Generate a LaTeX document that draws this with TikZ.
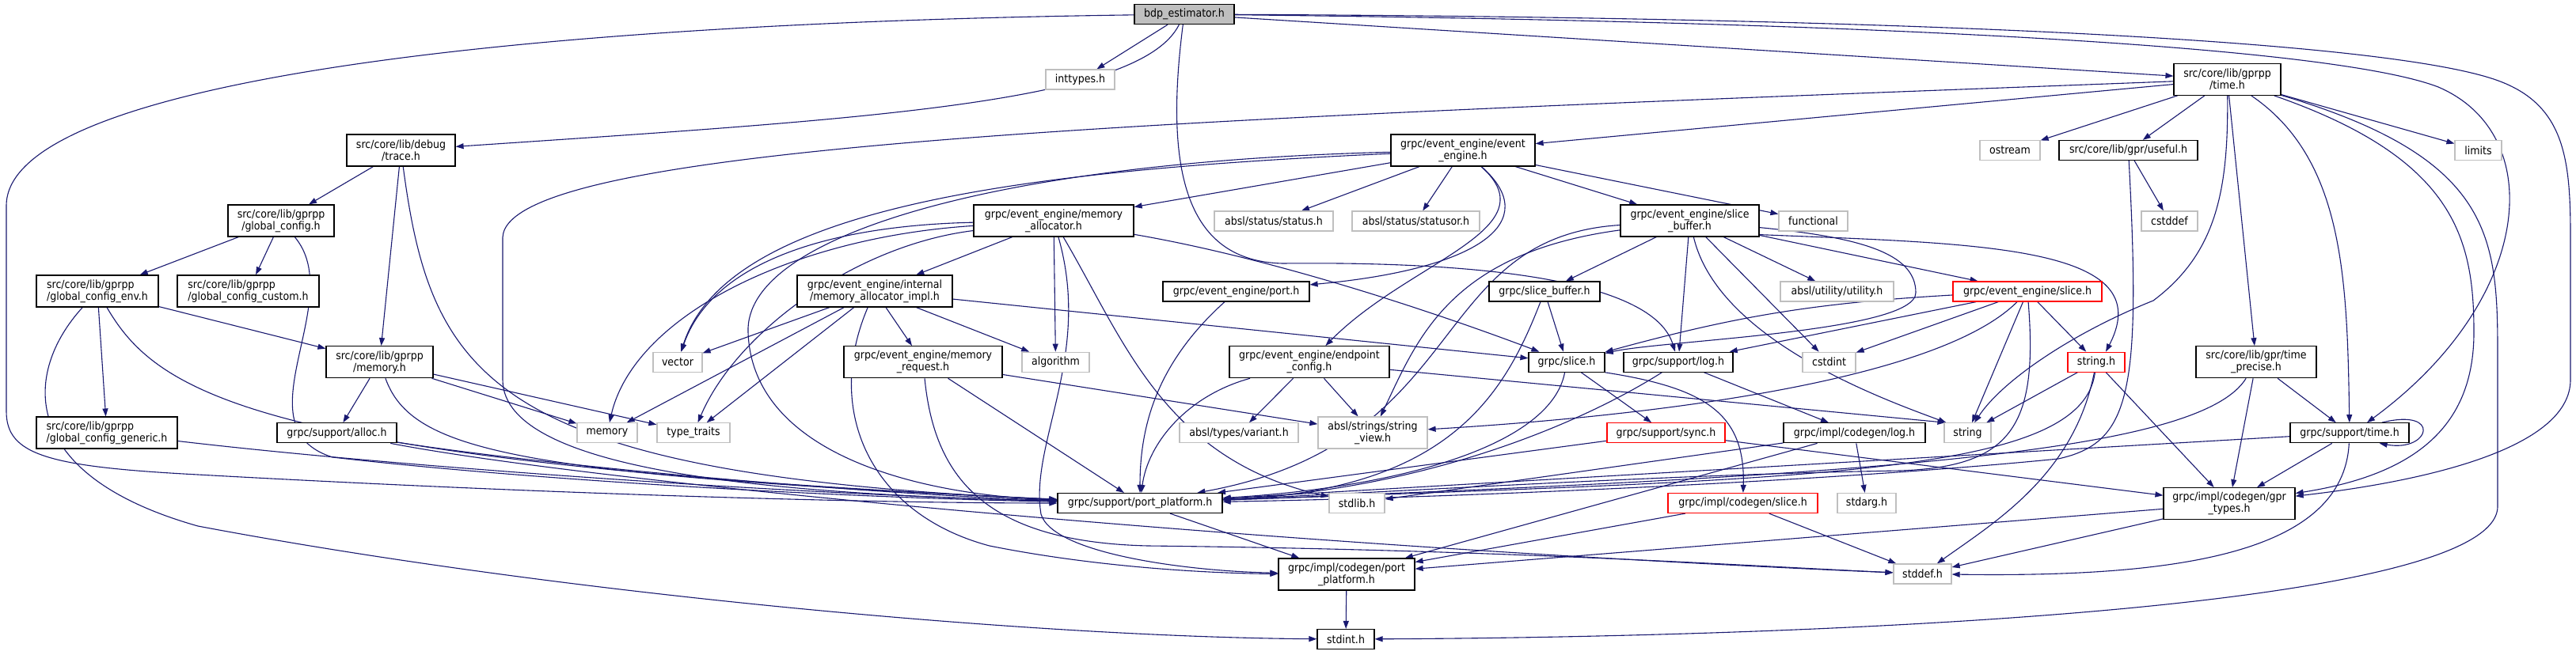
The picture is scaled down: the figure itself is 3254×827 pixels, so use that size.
\documentclass[tikz,border=0pt]{standalone}
\usepackage{fontspec}
\setmainfont{DejaVu Sans Condensed}
\usetikzlibrary{arrows.meta, backgrounds}
\definecolor{dxblue}{RGB}{25,25,112}
\definecolor{dxgray}{RGB}{191,191,191}
\definecolor{dxred}{RGB}{255,0,0}
\newcommand{\dxfont}{\fontsize{14}{15}\selectfont}

\begin{document}
\begin{tikzpicture}[x=1pt, y=1pt,
  dxbox/.style={draw, line width=1.2pt, minimum height=25, inner xsep=2pt, inner ysep=1pt, font=\dxfont, align=center, fill=white},
  tworow/.style={minimum height=40},
  lft/.style={align=left},
  doc/.style={dxbox, draw=black},
  ext/.style={dxbox, draw=dxgray},
  trunc/.style={dxbox, draw=dxred},
  incl/.style={draw=dxblue, line width=1.1pt, -{Triangle[length=10pt,width=7pt]}}]
\useasboundingbox (0,0) rectangle (3254,-827);

% Headers, top rank first
\node[doc, fill=dxgray, minimum width=126] (bdp) at (1496,-18) {bdp\_estimator.h};
\node[ext, minimum width=87] (inttypes) at (1364.5,-100.5) {inttypes.h};
\node[doc, tworow, minimum width=135] (gtime) at (2813.5,-100.3) {src/core/lib/gprpp\\/time.h};

\node[doc, tworow, minimum width=137] (trace) at (506.5,-190) {src/core/lib/debug\\/trace.h};
\node[doc, tworow, minimum width=182] (eeengine) at (1848,-190) {grpc/event\_engine/event\\\_engine.h};
\node[ext, minimum width=76] (ostream) at (2539,-190) {ostream};
\node[doc, minimum width=175] (useful) at (2688.5,-190) {src/core/lib/gpr/useful.h};
\node[ext, minimum width=59] (limits) at (3130.5,-190) {limits};

\node[doc, tworow, minimum width=134] (gcfg) at (355,-279) {src/core/lib/gprpp\\/global\_config.h};
\node[doc, tworow, minimum width=202] (memalloc) at (1331,-279) {grpc/event\_engine/memory\\\_allocator.h};
\node[ext, minimum width=150] (status) at (1609,-279.5) {absl/status/status.h};
\node[ext, minimum width=161] (statusor) at (1788.5,-279.5) {absl/status/statusor.h};
\node[doc, tworow, minimum width=175] (eeslicebuf) at (2134.5,-279) {grpc/event\_engine/slice\\\_buffer.h};
\node[ext, minimum width=87] (functional) at (2290.5,-279.5) {functional};
\node[ext, minimum width=71] (cstddef) at (2740.5,-279.5) {cstddef};

\node[doc, tworow, lft, minimum width=154] (gcenv) at (123,-368) {src/core/lib/gprpp\\/global\_config\_env.h};
\node[doc, tworow, lft, minimum width=179] (gccustom) at (313.5,-368) {src/core/lib/gprpp\\/global\_config\_custom.h};
\node[doc, tworow, minimum width=196] (memimpl) at (1105,-368) {grpc/event\_engine/internal\\/memory\_allocator\_impl.h};
\node[doc, minimum width=185] (port) at (1561.5,-368.5) {grpc/event\_engine/port.h};
\node[doc, minimum width=140] (slicebuf) at (1951,-368.5) {grpc/slice\_buffer.h};
\node[ext, minimum width=143] (utility) at (2320.5,-368.5) {absl/utility/utility.h};
\node[trunc, minimum width=188] (eeslice) at (2561,-368.5) {grpc/event\_engine/slice.h};

\node[doc, tworow, minimum width=135] (gmemory) at (479.5,-457.7) {src/core/lib/gprpp\\/memory.h};
\node[ext, minimum width=62] (vector) at (856,-457.7) {vector};
\node[doc, tworow, minimum width=200] (memreq) at (1166,-457.7) {grpc/event\_engine/memory\\\_request.h};
\node[ext, minimum width=85] (algorithm) at (1333.5,-457.7) {algorithm};
\node[doc, tworow, minimum width=202] (endpoint) at (1654,-457.7) {grpc/event\_engine/endpoint\\\_config.h};
\node[doc, minimum width=96] (slice) at (1979,-457.7) {grpc/slice.h};
\node[doc, minimum width=138] (log) at (2120,-457.7) {grpc/support/log.h};
\node[ext, minimum width=67] (cstdint) at (2310.5,-457.7) {cstdint};
\node[trunc, minimum width=72] (stringh) at (2648,-457.7) {string.h};
\node[doc, tworow, minimum width=152] (timeprecise) at (2850,-457.7) {src/core/lib/gpr/time\\\_precise.h};

\node[doc, tworow, lft, minimum width=178] (gcgeneric) at (135,-547) {src/core/lib/gprpp\\/global\_config\_generic.h};
\node[doc, minimum width=151] (alloc) at (425.5,-547.3) {grpc/support/alloc.h};
\node[ext, minimum width=76] (memory) at (767,-547.3) {memory};
\node[ext, minimum width=92] (typetraits) at (876,-547.3) {type\_traits};
\node[ext, minimum width=150] (variant) at (1565,-547.3) {absl/types/variant.h};
\node[ext, tworow, minimum width=138] (stringview) at (1734,-547) {absl/strings/string\\\_view.h};
\node[trunc, minimum width=149] (sync) at (2104.5,-547.3) {grpc/support/sync.h};
\node[doc, minimum width=179] (cglog) at (2342.5,-547.3) {grpc/impl/codegen/log.h};
\node[ext, minimum width=59] (string) at (2485.5,-547.3) {string};
\node[doc, minimum width=150] (suptime) at (2968,-547.3) {grpc/support/time.h};

\node[doc, minimum width=208] (ppsupport) at (1440,-636) {grpc/support/port\_platform.h};
\node[ext, minimum width=70] (stdlib) at (1714,-636) {stdlib.h};
\node[trunc, minimum width=189] (cgslice) at (2201.5,-636) {grpc/impl/codegen/slice.h};
\node[ext, minimum width=74] (stdarg) at (2358,-636) {stdarg.h};
\node[doc, tworow, minimum width=166] (gprtypes) at (2816,-636.7) {grpc/impl/codegen/gpr\\\_types.h};

\node[doc, tworow, minimum width=172] (ppcodegen) at (1701,-726) {grpc/impl/codegen/port\\\_platform.h};
\node[ext, minimum width=73] (stddef) at (2428.5,-725.5) {stddef.h};

\node[doc, minimum width=72] (stdint) at (1700,-808) {stdint.h};

% Includes, drawn behind the boxes
\begin{scope}[on background layer]
\fill[white] (0,0) rectangle (3254,-827);
% bdp_estimator.h
\draw[incl] (bdp) .. controls (600,-30) and (8,-110) .. (8,-260) -- (8,-520) .. controls (8,-575) and (60,-590) .. (250,-600) .. controls (700,-625) and (1100,-636) .. (ppsupport);
\draw[incl] (bdp) -- (inttypes);
\draw[incl] (bdp) .. controls (1440,-130) and (1100,-150) .. (trace);
\draw[incl] (bdp) .. controls (1470,-220) and (1500,-330) .. (1620,-333) .. controls (1900,-330) and (2090,-360) .. (log);
\draw[incl] (bdp) -- (gtime);
\draw[incl] (bdp) .. controls (2400,-28) and (2950,-60) .. (3080,-110) .. controls (3220,-170) and (3200,-380) .. ([xshift=22]suptime.north);
\draw[incl] (bdp) .. controls (2400,-22) and (3000,-50) .. (3150,-100) .. controls (3240,-130) and (3247,-200) .. (3247,-300) -- (3247,-480) .. controls (3247,-570) and (3050,-610) .. (gprtypes);
% src/core/lib tree
\draw[incl] (trace) -- (gcfg);
\draw[incl] (trace) -- (gmemory);
\draw[incl] (trace) .. controls (545,-480) and (620,-600) .. (ppsupport);
\draw[incl] (gcfg) -- (gcenv);
\draw[incl] (gcfg) -- (gccustom);
\draw[incl] (gcfg) .. controls (440,-380) and (300,-540) .. (420,-578) .. controls (700,-610) and (1100,-630) .. (ppsupport);
\draw[incl] (gcenv) -- (gcgeneric);
\draw[incl] (gcenv) -- (gmemory);
\draw[incl] (gcenv) .. controls (200,-500) and (330,-585) .. (ppsupport);
\draw[incl] (gcenv) .. controls (30,-470) and (20,-600) .. (250,-665) .. controls (700,-750) and (1300,-805) .. (stdint);
\draw[incl] (gcgeneric) .. controls (500,-590) and (1000,-625) .. (ppsupport);
\draw[incl] (gmemory) -- (alloc);
\draw[incl] (gmemory) -- (memory);
\draw[incl] (gmemory) -- (typetraits);
\draw[incl] (gmemory) .. controls (520,-570) and (650,-600) .. (ppsupport);
\draw[incl] (alloc) .. controls (700,-590) and (1100,-625) .. (ppsupport);
\draw[incl] (alloc) .. controls (750,-610) and (1600,-690) .. (stddef);
% event engine memory
\draw[incl] (memalloc) -- (memimpl);
\draw[incl] (memalloc) -- (algorithm);
\draw[incl] (memalloc) .. controls (1050,-285) and (900,-330) .. (vector);
\draw[incl] (memalloc) .. controls (1000,-300) and (800,-400) .. (memory);
\draw[incl] (memalloc) .. controls (1080,-310) and (930,-420) .. (typetraits);
\draw[incl] (memalloc) .. controls (1420,-430) and (1470,-580) .. (stdlib);
\draw[incl] (memalloc) .. controls (1600,-325) and (1800,-390) .. (slice);
\draw[incl] (memalloc) .. controls (1380,-450) and (1300,-560) .. (1315,-650) .. controls (1330,-700) and (1500,-722) .. (ppcodegen);
\draw[incl] (memimpl) -- (memreq);
\draw[incl] (memimpl) -- (algorithm);
\draw[incl] (memimpl) -- (vector);
\draw[incl] (memimpl) -- (memory);
\draw[incl] (memimpl) -- (typetraits);
\draw[incl] (memimpl) -- (slice);
\draw[incl] (memimpl) .. controls (1040,-520) and (1100,-650) .. (1250,-690) .. controls (1400,-720) and (1550,-725) .. (ppcodegen);
\draw[incl] (memreq) -- (ppsupport);
\draw[incl] (memreq) -- (stringview);
\draw[incl] (memreq) .. controls (1180,-600) and (1240,-685) .. (1450,-690) .. controls (1900,-695) and (2200,-715) .. (stddef);
\draw[incl] (port) .. controls (1460,-460) and (1440,-540) .. (ppsupport);
% event_engine.h
\draw[incl] (eeengine) -- (memalloc);
\draw[incl] (eeengine) .. controls (1300,-215) and (920,-260) .. (vector);
\draw[incl] (eeengine) .. controls (1250,-205) and (940,-300) .. (945,-420) .. controls (950,-570) and (1150,-625) .. (ppsupport);
\draw[incl] (eeengine) -- (status);
\draw[incl] (eeengine) -- (statusor);
\draw[incl] (eeengine) .. controls (1950,-280) and (1870,-340) .. (port);
\draw[incl] (eeengine) .. controls (1960,-290) and (1780,-330) .. (endpoint);
\draw[incl] (eeengine) -- (eeslicebuf);
\draw[incl] (eeengine) -- (functional);
% event_engine/slice_buffer.h
\draw[incl] (eeslicebuf) .. controls (1800,-300) and (1860,-560) .. (ppsupport);
\draw[incl] (eeslicebuf) .. controls (1830,-320) and (1790,-430) .. (stringview);
\draw[incl] (eeslicebuf) -- (slicebuf);
\draw[incl] (eeslicebuf) -- (log);
\draw[incl] (eeslicebuf) .. controls (2170,-430) and (2380,-505) .. ([xshift=3]string.north west);
\draw[incl] (eeslicebuf) -- (cstdint);
\draw[incl] (eeslicebuf) -- (utility);
\draw[incl] (eeslicebuf) -- (eeslice);
\draw[incl] (eeslicebuf) .. controls (2350,-300) and (2420,-320) .. (2420,-370) .. controls (2420,-420) and (2100,-430) .. (slice);
\draw[incl] ([yshift=3]eeslicebuf.south east) .. controls (2500,-308) and (2730,-310) .. ([xshift=12]stringh.north);
\draw[incl] (slicebuf) -- (slice);
\draw[incl] (slicebuf) .. controls (1900,-500) and (1830,-620) .. (ppsupport);
% grpc/slice.h and friends
\draw[incl] (slice) -- (sync);
\draw[incl] (slice.south east) .. controls (2150,-490) and (2205,-520) .. (cgslice);
\draw[incl] (slice) .. controls (1960,-560) and (1780,-615) .. (ppsupport);
\draw[incl] (log) -- (cglog);
\draw[incl] (log) .. controls (1990,-540) and (1790,-620) .. (ppsupport);
\draw[incl] (sync) -- (ppsupport);
\draw[incl] (sync) -- (gprtypes);
\draw[incl] (cglog) -- (stdlib);
\draw[incl] (cglog) -- (stdarg);
\draw[incl] (cglog) -- (ppcodegen);
\draw[incl] (cgslice) -- (ppcodegen);
\draw[incl] (cgslice) -- (stddef);
\draw[incl] (eeslice) to[bend right=6] (slice);
\draw[incl] (eeslice) -- (log);
\draw[incl] (eeslice) -- (cstdint);
\draw[incl] (eeslice) -- (string);
\draw[incl] (eeslice) -- (stringh);
\draw[incl] (eeslice) .. controls (2450,-480) and (2100,-525) .. (stringview);
\draw[incl] (eeslice) .. controls (2575,-540) and (2540,-590) .. (2400,-595) .. controls (2100,-600) and (1800,-620) .. (ppsupport);
\draw[incl] (stringh) -- (string);
\draw[incl] (stringh) .. controls (2630,-600) and (2300,-605) .. (ppsupport);
\draw[incl] (stringh) .. controls (2620,-600) and (2520,-660) .. (stddef);
\draw[incl] (stringh) -- (gprtypes);
% src/core/lib/gprpp/time.h
\draw[incl] (gtime) -- (ostream);
\draw[incl] (gtime) -- (useful);
\draw[incl] (gtime) -- (limits);
\draw[incl] (gtime) .. controls (2815,-240) and (2800,-320) .. (2720,-380) .. controls (2620,-420) and (2530,-480) .. (string);
\draw[incl] (gtime) -- (timeprecise);
\draw[incl] (gtime) .. controls (2960,-200) and (2965,-350) .. (suptime);
\draw[incl] (gtime) .. controls (3100,-200) and (3125,-300) .. (3125,-420) .. controls (3125,-540) and (3050,-600) .. (gprtypes);
\draw[incl] (gtime) .. controls (3150,-200) and (3155,-300) .. (3155,-450) -- (3155,-640) .. controls (3155,-770) and (2300,-805) .. (stdint);
\draw[incl] (gtime) -- (eeengine);
\draw[incl] (gtime) .. controls (1500,-150) and (640,-180) .. (635,-300) -- (635,-480) .. controls (635,-600) and (1000,-625) .. (ppsupport);
\draw[incl] (useful) -- (cstddef);
\draw[incl] (useful) .. controls (2705,-500) and (2690,-560) .. (2600,-580) .. controls (2300,-610) and (1800,-630) .. (ppsupport);
\draw[incl] (timeprecise) .. controls (2780,-570) and (2400,-600) .. (ppsupport);
\draw[incl] (timeprecise) -- (gprtypes);
\draw[incl] (timeprecise) -- (suptime);
\draw[incl] (suptime) -- (ppsupport);
\draw[incl] (suptime) -- (gprtypes);
\draw[incl] (suptime) .. controls (2960,-700) and (2750,-730) .. (stddef);
\draw[incl] ([xshift=-35]suptime.north east) .. controls (3085,-515) and (3070,-572) .. ([xshift=-38]suptime.south east);
\draw[incl] (gprtypes) -- (ppcodegen);
\draw[incl] (gprtypes) -- (stddef);
% endpoint_config.h
\draw[incl] (endpoint) .. controls (1500,-500) and (1450,-560) .. (ppsupport);
\draw[incl] (endpoint) -- (variant);
\draw[incl] (endpoint) -- (stringview);
\draw[incl] (endpoint) -- ([xshift=2]string.north west);
% port platform chain
\draw[incl] (ppsupport) -- (ppcodegen);
\draw[incl] (ppcodegen) -- (stdint);
\end{scope}
\end{tikzpicture}
\end{document}
